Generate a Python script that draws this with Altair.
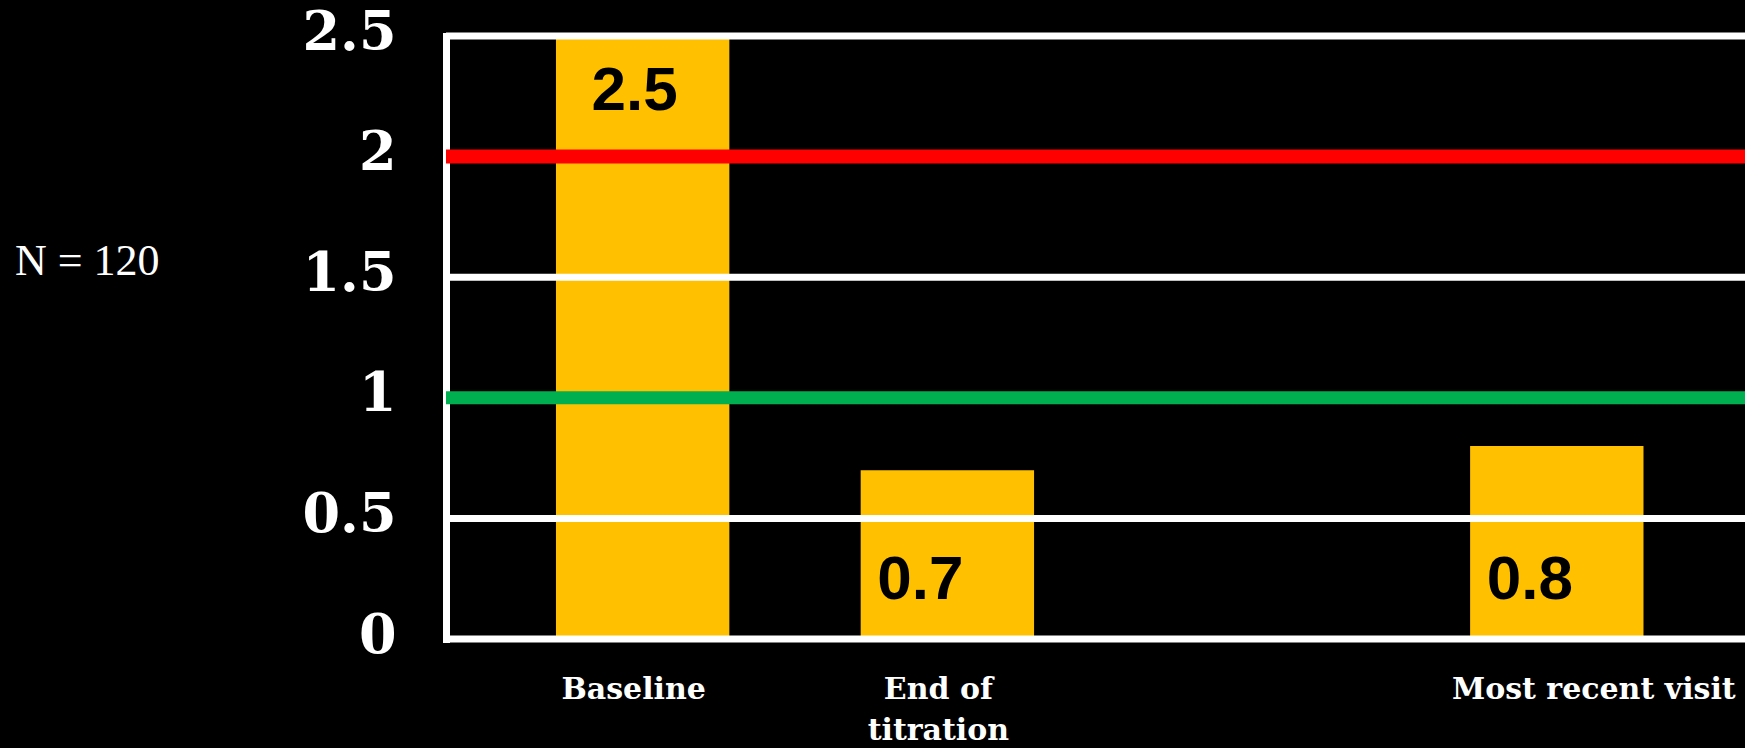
import altair as alt
import pandas as pd

# Categories on the x axis (a spacer slot sits between the 2nd and 3rd visit)
categories = ["Baseline", "End of\ntitration", " ", "Most recent visit"]
bar_categories = ["Baseline", "End of\ntitration", "Most recent visit"]
bar_values = [2.5, 0.7, 0.8]

y_ticks = [0, 0.5, 1, 1.5, 2, 2.5]
white_lines = [0, 0.5, 1.5, 2.5]
upper_threshold = [2]
lower_threshold = [1]
note = ["N = 120"]

bars_df = pd.DataFrame({"visit": bar_categories, "value": bar_values})

SLAB = "DejaVu Serif"
YELLOW = "#FFC000"

x_scale = alt.Scale(domain=categories, paddingInner=0.431, paddingOuter=0.347, align=0.52)
y_scale = alt.Scale(domain=[0, 2.5], nice=False, zero=True)

x_enc = alt.X(
    "visit:N",
    scale=x_scale,
    sort=categories,
    axis=alt.Axis(
        title=None,
        domain=False,
        ticks=False,
        labelAngle=0,
        labelColor="white",
        labelFont=SLAB,
        labelFontWeight="bold",
        labelFontSize=30,
        labelLineHeight=41,
        labelPadding=35,
        labelLimit=0,
        labelExpr="split(datum.label, '\\n')",
        labelOffset={"condition": {"test": "datum.value == 'Most recent visit'", "value": 37}, "value": -9},
    ),
)
y_enc = alt.Y(
    "value:Q",
    scale=y_scale,
    axis=alt.Axis(
        title=None,
        values=y_ticks,
        grid=False,
        ticks=False,
        domain=True,
        domainColor="white",
        domainWidth=7,
        domainCap="square",
        labelColor="white",
        labelFont=SLAB,
        labelFontWeight="bold",
        labelFontSize=54,
        labelPadding=50,
        labelOffset=-3,
        format="~g",
    ),
)

bars = alt.Chart(bars_df).mark_bar(color=YELLOW).encode(x=x_enc, y=y_enc)

grid = alt.Chart(pd.DataFrame({"value": white_lines})).mark_rule(
    color="white", strokeWidth=7
).encode(y=alt.Y("value:Q", scale=y_scale))

red = alt.Chart(pd.DataFrame({"value": upper_threshold})).mark_rule(
    color="#FF0000", strokeWidth=14
).encode(y=alt.Y("value:Q", scale=y_scale))

green = alt.Chart(pd.DataFrame({"value": lower_threshold})).mark_rule(
    color="#00B050", strokeWidth=13
).encode(y=alt.Y("value:Q", scale=y_scale))

# Value labels: tall bars get the label just inside the top, short bars near the base
label_top = alt.Chart(bars_df).transform_filter("datum.value >= 1").mark_text(
    font="Liberation Sans", fontWeight="bold", fontSize=62, color="black",
    baseline="middle", dy=55, dx=-8,
).encode(
    x=alt.X("visit:N", scale=x_scale, sort=categories),
    y=alt.Y("value:Q", scale=y_scale),
    text=alt.Text("value:Q", format=".1f"),
)

label_base = alt.Chart(bars_df).transform_filter("datum.value < 1").mark_text(
    font="Liberation Sans", fontWeight="bold", fontSize=62, color="black",
    baseline="middle", dy=-59, dx=-27,
).encode(
    x=alt.X("visit:N", scale=x_scale, sort=categories),
    y=alt.datum(0),
    text=alt.Text("value:Q", format=".1f"),
)

n_text = alt.Chart(pd.DataFrame({"t": note})).mark_text(
    font="Liberation Serif", fontSize=44, color="white", align="left", baseline="middle",
).encode(x=alt.value(-431), y=alt.value(226), text="t:N")

chart = alt.layer(bars, grid, red, green, label_top, label_base, n_text).properties(
    width=1299,
    height=603,
    autosize=alt.AutoSizeParams(type="none"),
    padding={"left": 446, "top": 36, "right": 0, "bottom": 109},
    background="black",
).configure_view(stroke=None)

chart.save("out.html", embed_options={"renderer": "svg", "actions": False})
